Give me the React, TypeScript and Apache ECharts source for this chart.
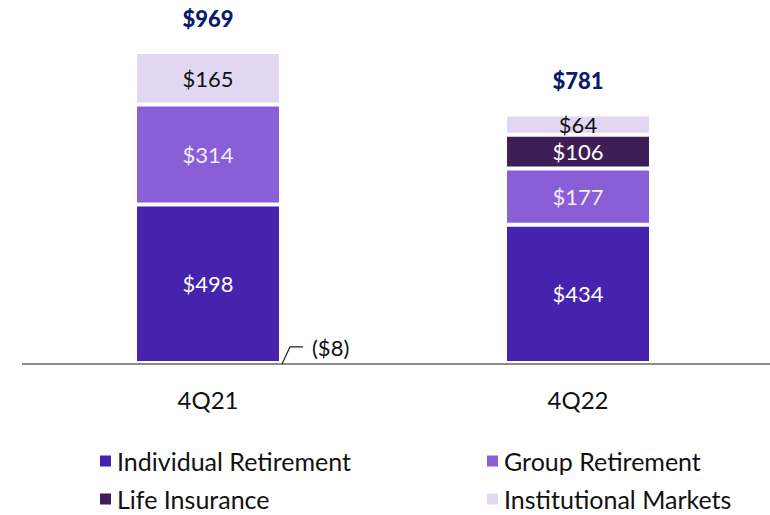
import React, { useEffect, useRef } from "react";
import * as echarts from "echarts";

const categories = ["4Q21", "4Q22"];
const individualRetirement = [498, 434];
const groupRetirement = [314, 177];
const lifeInsurance = [-8, 106];
const institutionalMarkets = [165, 64];
const totals = [969, 781];

const FONT = "Lato, 'Noto Sans', sans-serif";

const fmt = (v: number) => (v < 0 ? `($${-v})` : `$${v}`);

export default function App() {
  const ref = useRef<HTMLDivElement>(null);
  useEffect(() => {
    if (!ref.current) return;
    const chart = echarts.init(ref.current, null, { renderer: "svg" });
    const stackTops = categories.map((_, i) =>
      [individualRetirement, groupRetirement, lifeInsurance, institutionalMarkets]
        .map((a) => a[i])
        .filter((v) => v > 0)
        .reduce((s, v) => s + v, 0)
    );
    const segLabel = (color: string) => ({
      show: true,
      position: "inside",
      fontSize: 22,
      fontFamily: FONT,
      color,
      formatter: (p: any) => fmt(p.value),
    });
    const itemStyle = (color: string) => ({ color, borderColor: "#ffffff", borderWidth: 2 });
    const legendBase = {
      orient: "vertical",
      top: 448,
      height: 110,
      padding: 0,
      icon: "rect",
      itemWidth: 13,
      itemHeight: 13,
      itemGap: 12,
      textStyle: { fontSize: 25, fontFamily: FONT, color: "#111", lineHeight: 26 },
    };
    chart.setOption({
      animation: false,
      grid: { left: 23, right: 7, top: 44.7, bottom: 142.5 },
      xAxis: {
        type: "category",
        data: categories,
        axisLine: { show: false },
        axisTick: { show: false },
        axisLabel: { fontSize: 24, fontFamily: FONT, color: "#111", margin: 15 },
      },
      yAxis: { type: "value", min: -30, max: 1000, show: false, splitLine: { show: false } },
      legend: [
        { ...legendBase, data: ["Individual Retirement", "Life Insurance"], left: 98 },
        { ...legendBase, data: ["Group Retirement", "Institutional Markets"], left: 485 },
      ],
      series: [
        {
          name: "Individual Retirement",
          type: "bar",
          stack: "total",
          barWidth: 146,
          data: individualRetirement,
          itemStyle: itemStyle("#4523AE"),
          label: segLabel("#ffffff"),
        },
        {
          name: "Group Retirement",
          type: "bar",
          stack: "total",
          data: groupRetirement,
          itemStyle: itemStyle("#8A5ED6"),
          label: segLabel("#f2eefc"),
        },
        {
          name: "Life Insurance",
          type: "bar",
          stack: "total",
          clip: false,
          data: lifeInsurance.map((v) =>
            v < 0
              ? {
                  value: v,
                  label: { position: "right", distance: 5, offset: [26, -17], color: "#111" },
                }
              : v
          ),
          itemStyle: itemStyle("#3F1D56"),
          label: segLabel("#ffffff"),
        },
        {
          name: "Institutional Markets",
          type: "bar",
          stack: "total",
          data: institutionalMarkets,
          itemStyle: itemStyle("#E1D7F3"),
          label: segLabel("#111111"),
        },
        {
          name: "Total",
          type: "scatter",
          symbolSize: 0,
          data: stackTops,
          itemStyle: { opacity: 1 },
          label: {
            show: true,
            position: "top",
            distance: 23,
            fontSize: 22,
            fontWeight: 900,
            fontFamily: FONT,
            color: "#0A1A6E",
            formatter: (p: any) => fmt(totals[p.dataIndex]),
          },
        },
      ],
    });
    const negIdx = lifeInsurance.findIndex((v) => v < 0);
    const base = chart.convertToPixel({ xAxisIndex: 0, yAxisIndex: 0 }, [categories[0], 0]) as number[];
    const y0 = base[1];
    const graphics: any[] = [
      {
        type: "line",
        shape: { x1: 22, y1: y0 + 1, x2: 770, y2: y0 + 1 },
        style: { stroke: "#8c8c8c", lineWidth: 2 },
        z: 10,
      },
    ];
    if (negIdx >= 0) {
      const p = chart.convertToPixel({ xAxisIndex: 0, yAxisIndex: 0 }, [categories[negIdx], 0]) as number[];
      const edge = p[0] + 73;
      graphics.push({
        type: "polyline",
        shape: { points: [[edge + 1, y0 + 1], [edge + 9, y0 - 16], [edge + 22, y0 - 16]] },
        style: { stroke: "#222", lineWidth: 1.2, fill: "none" },
        z: 11,
      });
    }
    chart.setOption({ graphic: graphics });
    return () => chart.dispose();
  }, []);
  return <div ref={ref} style={{ width: 770, height: 515, position: "absolute", left: 0, top: 0 }} />;
}
